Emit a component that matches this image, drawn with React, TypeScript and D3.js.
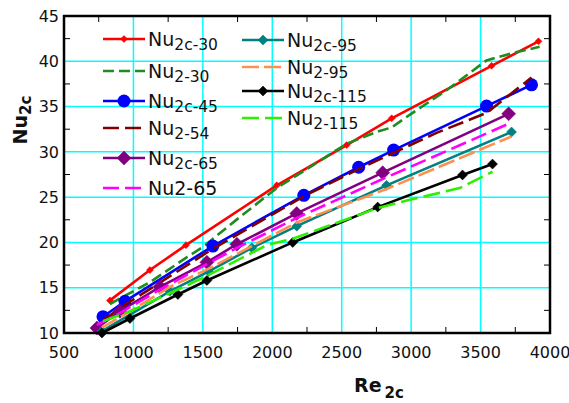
import React from 'react';
import * as d3 from 'd3';

// Re2c, Nu
const nu2c30 = [[831, 13.6], [1119, 16.95], [1378, 19.7], [2032, 26.3], [2536, 30.75], [2860, 33.7], [3579, 39.5], [3917, 42.2]];
const nu230 = [[831, 13.2], [950, 14.2], [1119, 15.6], [1378, 18.3], [1500, 19.5], [1750, 22.6], [2032, 26.0], [2300, 28.6], [2536, 30.9], [2752, 32.2], [2860, 32.7], [3000, 34.2], [3255, 36.8], [3543, 40.1], [3730, 40.9], [3925, 41.6]];
const nu2c45 = [[781, 11.8], [939, 13.5], [1572, 19.6], [2227, 25.2], [2622, 28.3], [2874, 30.2], [3543, 35.05], [3867, 37.4]];
const nu254 = [[781, 11.4], [939, 13.1], [1572, 19.3], [2227, 25.1], [2622, 28.1], [2874, 29.9], [3183, 32.1], [3543, 34.3], [3867, 38.2]];
const nu2c65 = [[737, 10.55], [903, 12.4], [1191, 15.1], [1529, 17.8], [1745, 19.8], [2176, 23.2], [2795, 27.7], [3702, 34.2]];
const nu265 = [[737, 10.9], [903, 12.2], [1191, 14.8], [1529, 17.6], [1745, 19.4], [2176, 22.7], [2795, 27.0], [3702, 33.1]];
const nu2c95 = [[773, 10.2], [1262, 14.6], [1543, 16.8], [1853, 19.4], [2176, 21.8], [2823, 26.3], [3723, 32.2]];
const nu295 = [[773, 10.6], [1000, 12.6], [1262, 15.1], [1529, 17.0], [1853, 19.6], [2176, 22.2], [2823, 25.9], [3723, 31.7]];
const nu2c115 = [[773, 10.0], [975, 11.6], [1320, 14.25], [1529, 15.8], [2147, 20.0], [2759, 23.9], [3370, 27.45], [3586, 28.65]];
const nu2115 = [[781, 11.3], [975, 12.4], [1320, 14.8], [1529, 16.3], [1960, 19.7], [2147, 20.4], [2759, 23.8], [2990, 24.7], [3349, 26.0], [3586, 27.8]];

const xTicks = [500, 1000, 1500, 2000, 2500, 3000, 3500, 4000];
const yTicks = [10, 15, 20, 25, 30, 35, 40, 45];

// name, subscript, data, colour, dash, marker, marker size
const series = [
  { main: 'Nu', sub: '2c-30', data: nu2c30, color: '#ff0000', dash: null, marker: 'diamond', size: 3.5 },
  { main: 'Nu', sub: '2-30', data: nu230, color: '#1e8c1e', dash: '11,5', marker: null, size: 0 },
  { main: 'Nu', sub: '2c-45', data: nu2c45, color: '#0000ff', dash: null, marker: 'circle', size: 6.5 },
  { main: 'Nu', sub: '2-54', data: nu254, color: '#800000', dash: '16,6', marker: null, size: 0 },
  { main: 'Nu', sub: '2c-65', data: nu2c65, color: '#800080', dash: null, marker: 'diamond', size: 7 },
  { main: 'Nu2-65', sub: '', data: nu265, color: '#ff00ff', dash: '16,6', marker: null, size: 0 },
  { main: 'Nu', sub: '2c-95', data: nu2c95, color: '#008080', dash: null, marker: 'diamond', size: 5 },
  { main: 'Nu', sub: '2-95', data: nu295, color: '#ff8f4f', dash: '17,5', marker: null, size: 0 },
  { main: 'Nu', sub: '2c-115', data: nu2c115, color: '#000000', dash: null, marker: 'diamond', size: 5 },
  { main: 'Nu', sub: '2-115', data: nu2115, color: '#2cf000', dash: '17,6', marker: null, size: 0 },
];

const left = 64, right = 550, top = 16, bottom = 333;

const x = d3.scaleLinear().domain([500, 4000]).range([left, right]);
const y = d3.scaleLinear().domain([10, 45]).range([bottom, top]);

const line = d3.line<number[]>().x(d => x(d[0])).y(d => y(d[1]));

function Marker({ type, cx, cy, r, color }) {
  if (type === 'circle') return <circle cx={cx} cy={cy} r={r} fill={color} />;
  if (type === 'diamond')
    return <path d={`M${cx},${cy - r}L${cx + r},${cy}L${cx},${cy + r}L${cx - r},${cy}Z`} fill={color} stroke={color} strokeWidth={0.5} />;
  return null;
}

export default function App() {
  const xMinor = d3.range(750, 4000, 500);
  const yMinor = d3.range(12.5, 45, 5);
  const legendPos = [
    [103, 39], [103, 71], [103, 101], [103, 128], [103, 158], [103, 188],
    [242, 40], [242, 67], [242, 91], [242, 118],
  ];
  const font = 'DejaVu Sans, Arial, sans-serif';
  return (
    <svg width={569} height={403} style={{ position: 'absolute', left: 0, top: 0 }} fontFamily={font}>
      <rect width={569} height={403} fill="#fff" />
      {/* grid */}
      {xTicks.slice(1, -1).map(t => (
        <line key={'gx' + t} x1={x(t)} x2={x(t)} y1={top} y2={bottom} stroke="#00ffff" strokeWidth={1.5} />
      ))}
      {yTicks.slice(1, -1).map(t => (
        <line key={'gy' + t} x1={left} x2={right} y1={y(t)} y2={y(t)} stroke="#00ffff" strokeWidth={1.5} />
      ))}
      {/* minor ticks, inward */}
      {xMinor.map(t => (
        <g key={'mx' + t} stroke="#000" strokeWidth={1}>
          <line x1={x(t)} x2={x(t)} y1={bottom} y2={bottom - 6} />
          <line x1={x(t)} x2={x(t)} y1={top} y2={top + 6} />
        </g>
      ))}
      {yMinor.map(t => (
        <g key={'my' + t} stroke="#000" strokeWidth={1}>
          <line x1={left} x2={left + 6} y1={y(t)} y2={y(t)} />
          <line x1={right} x2={right - 6} y1={y(t)} y2={y(t)} />
        </g>
      ))}
      {/* series */}
      {series.map((s, i) => (
        <g key={'s' + i}>
          <path d={line(s.data) || ''} fill="none" stroke={s.color} strokeWidth={2.6}
            strokeDasharray={s.dash || undefined} />
          {s.marker && s.data.map((d, j) => (
            <Marker key={j} type={s.marker} cx={x(d[0])} cy={y(d[1])} r={s.size} color={s.color} />
          ))}
        </g>
      ))}
      {/* frame */}
      <rect x={left} y={top} width={right - left} height={bottom - top} fill="none" stroke="#000" strokeWidth={2.5} />
      {/* tick labels */}
      {xTicks.map(t => (
        <text key={'tx' + t} x={x(t)} y={358} textAnchor="middle" fontSize={16} fill="#111">{t}</text>
      ))}
      {yTicks.map(t => (
        <text key={'ty' + t} x={59} y={y(t)} dy="0.36em" textAnchor="end" fontSize={16} fill="#111">{t}</text>
      ))}
      {/* axis titles */}
      <text x={354} y={392} fontSize={19} fontWeight="bold" fill="#111">
        Re<tspan dx={3} dy={6} fontSize={15}>2c</tspan>
      </text>
      <text transform="translate(27,120) rotate(-90)" textAnchor="middle" fontSize={19} fontWeight="bold" fill="#111">
        Nu<tspan dy={4} fontSize={15}>2c</tspan>
      </text>
      {/* legend */}
      {series.map((s, i) => {
        const [lx, ly] = legendPos[i];
        const w = 42;
        return (
          <g key={'l' + i}>
            <line x1={lx} x2={lx + w} y1={ly} y2={ly} stroke={s.color} strokeWidth={2.4}
              strokeDasharray={s.dash || undefined} />
            {s.marker && <Marker type={s.marker} cx={lx + w / 2} cy={ly} r={s.size} color={s.color} />}
            <text x={lx + w + 3} y={ly + 7} fontSize={19} fill="#111">
              {s.main}
              {s.sub && <tspan dy={4} fontSize={15.5}>{s.sub}</tspan>}
            </text>
          </g>
        );
      })}
    </svg>
  );
}
